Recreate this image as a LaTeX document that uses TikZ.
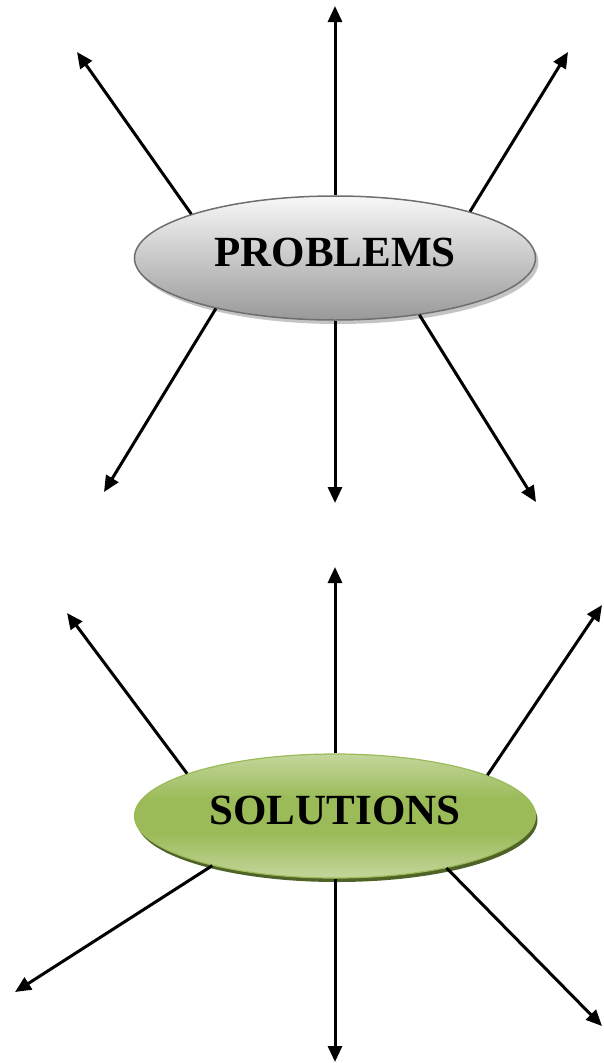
\documentclass[tikz,border=0pt]{standalone}
\usepackage{fontspec}
\setmainfont{Liberation Serif}
\usetikzlibrary{arrows.meta,shapes.geometric,shadows}
\definecolor{greyline}{HTML}{6E6E6E}
\definecolor{greyshade}{HTML}{C4C4C4}
\definecolor{olive}{HTML}{9BBB59}
\definecolor{olivelight}{HTML}{C3D69B}
\definecolor{olivedark}{HTML}{4F6228}
\def\bigtext{\bfseries\fontsize{43}{43}\selectfont}
\def\lift#1{\raisebox{11pt}{#1}}
\pgfdeclareverticalshading{greenband}{100bp}{color(0bp)=(olivelight); color(25bp)=(olivelight); color(43bp)=(olive); color(57bp)=(olive); color(75bp)=(olivelight); color(100bp)=(olivelight)}
\pgfdeclareverticalshading{greyfade}{100bp}{color(0bp)=(black!40); color(25bp)=(black!40); color(75bp)=(white!97!black); color(100bp)=(white!97!black)}

\begin{document}
\begin{tikzpicture}[x=1pt, y=-1pt,
	ray/.style={line width=3pt, -{Triangle[length=16pt,width=14pt]}},
	blob/.style={ellipse, minimum width=401pt, minimum height=124pt, inner sep=0pt, font=\bigtext},
	greyblob/.style={blob, draw=greyline, line width=1.5pt, shading=greyfade,
		drop shadow={shadow xshift=3pt, shadow yshift=-4pt, fill=greyshade, opacity=1}},
	greenblob/.style={blob, draw=olive, line width=1.2pt, shading=greenband,
		drop shadow={shadow xshift=2pt, shadow yshift=-4pt, fill=olivedark, opacity=1}}]
	\useasboundingbox (0,0) rectangle (603,1063);

	% upper star
	\node[greyblob] (prob) at (335,258) {\lift{PROBLEMS}};
	\coordinate (p1) at (335,6);
	\coordinate (p2) at (77,52);
	\coordinate (p3) at (568,52);
	\coordinate (p4) at (104,492);
	\coordinate (p5) at (335,503);
	\coordinate (p6) at (536,502);
	\draw[ray] (prob.north) -- (p1);
	\draw[ray] (prob.163) -- (p2);
	\draw[ray] (prob.19) -- (p3);
	\draw[ray] (prob.203) -- (p4);
	\draw[ray] (prob.south) -- (p5);
	\draw[ray] (prob.326) -- (p6);

	% lower star
	\node[greenblob] (sol) at (335,816) {\lift{SOLUTIONS}};
	\coordinate (s1) at (335,567);
	\coordinate (s2) at (67,613);
	\coordinate (s3) at (602,605);
	\coordinate (s4) at (15,992);
	\coordinate (s5) at (335,1062);
	\coordinate (s6) at (602,1026);
	\draw[ray] (sol.north) -- (s1);
	\draw[ray] (sol.164) -- (s2);
	\draw[ray] (sol.15) -- (s3);
	\draw[ray] (sol.202) -- (s4);
	\draw[ray] (sol.south) -- (s5);
	\draw[ray] (sol.335) -- (s6);
\end{tikzpicture}
\end{document}
